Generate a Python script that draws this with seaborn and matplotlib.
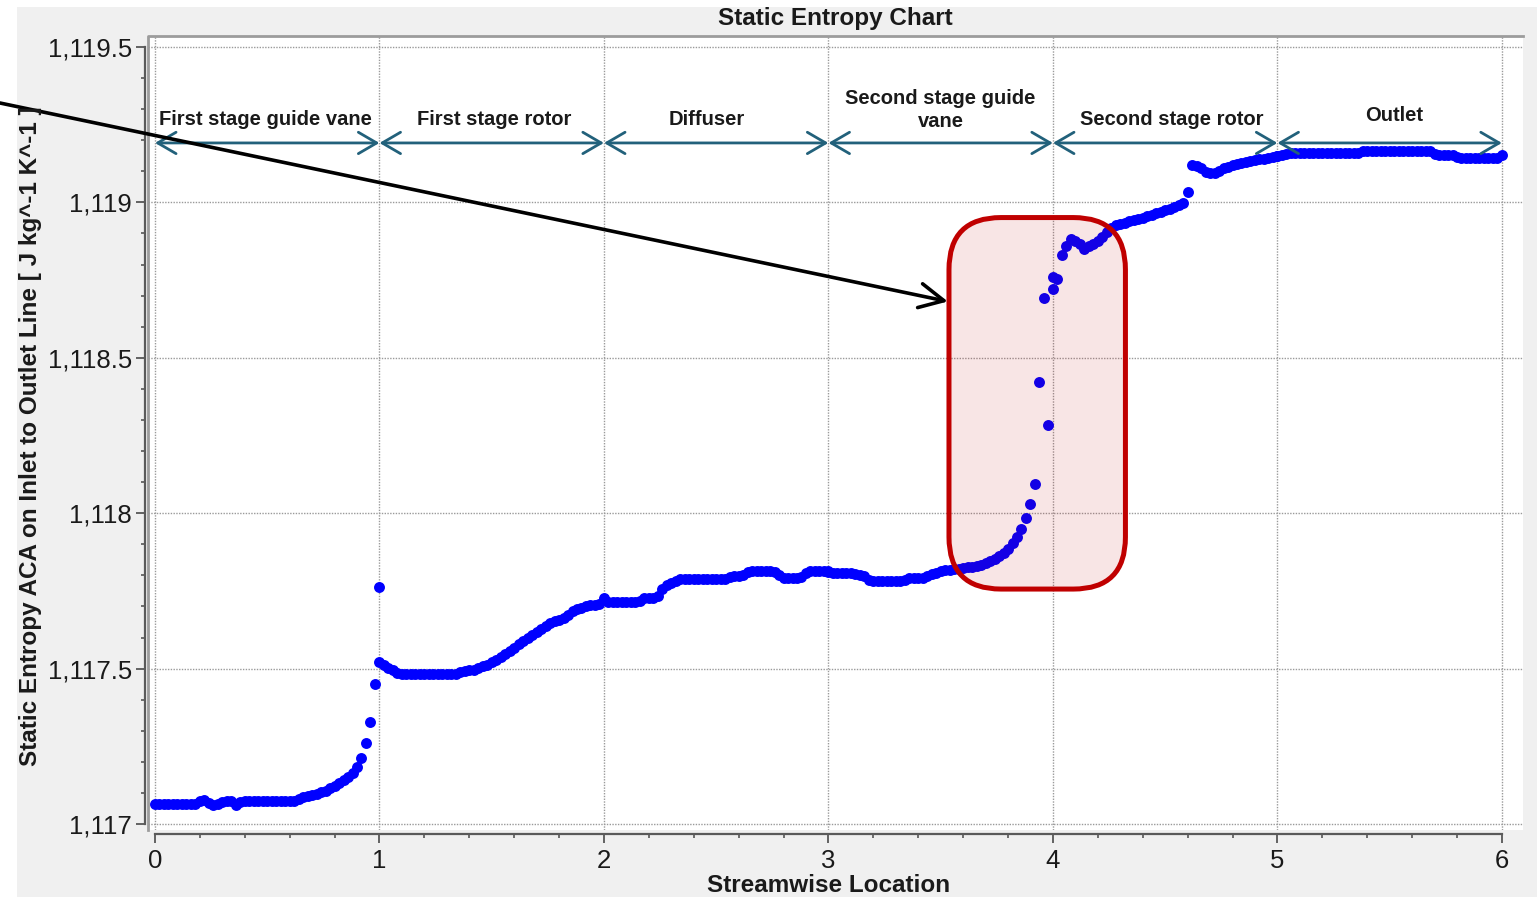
import numpy as np
import pandas as pd
import matplotlib
matplotlib.use("Agg")
import matplotlib.pyplot as plt
import matplotlib.transforms as mtransforms
from matplotlib.patches import Rectangle, FancyBboxPatch
from matplotlib.lines import Line2D
from matplotlib.ticker import MultipleLocator, FuncFormatter
import seaborn as sns

# ---------------- data ----------------
segment_starts = [0, 1, 2, 3, 4, 5]
station_offsets = np.round(np.linspace(0.0, 1.0, 51), 2)   # 51 stations per segment

seg1_entropy = [1117.066, 1117.066, 1117.066, 1117.066, 1117.066, 1117.066, 1117.066, 1117.066,
                1117.066, 1117.066, 1117.074, 1117.077, 1117.068, 1117.062, 1117.064, 1117.070,
                1117.075, 1117.075, 1117.062, 1117.072, 1117.074, 1117.074, 1117.074, 1117.074,
                1117.074, 1117.074, 1117.074, 1117.074, 1117.074, 1117.074, 1117.074, 1117.074,
                1117.080, 1117.088, 1117.090, 1117.094, 1117.096, 1117.102, 1117.108, 1117.115,
                1117.124, 1117.132, 1117.142, 1117.152, 1117.165, 1117.184, 1117.211, 1117.262,
                1117.330, 1117.450, 1117.762]
seg2_entropy = [1117.522, 1117.512, 1117.502, 1117.496, 1117.486, 1117.483, 1117.483, 1117.483,
                1117.483, 1117.483, 1117.483, 1117.483, 1117.483, 1117.483, 1117.483, 1117.483,
                1117.483, 1117.483, 1117.488, 1117.494, 1117.496, 1117.497, 1117.502, 1117.507,
                1117.512, 1117.520, 1117.527, 1117.537, 1117.547, 1117.557, 1117.567, 1117.578,
                1117.588, 1117.598, 1117.608, 1117.619, 1117.628, 1117.637, 1117.646, 1117.653,
                1117.658, 1117.664, 1117.674, 1117.684, 1117.691, 1117.695, 1117.700, 1117.705,
                1117.706, 1117.708, 1117.726]
seg3_entropy = [1117.721, 1117.713, 1117.713, 1117.713, 1117.713, 1117.713, 1117.713, 1117.713,
                1117.716, 1117.726, 1117.728, 1117.728, 1117.735, 1117.756, 1117.768, 1117.776,
                1117.783, 1117.787, 1117.787, 1117.787, 1117.787, 1117.787, 1117.787, 1117.787,
                1117.787, 1117.787, 1117.787, 1117.787, 1117.794, 1117.798, 1117.798, 1117.802,
                1117.810, 1117.815, 1117.815, 1117.815, 1117.815, 1117.815, 1117.812, 1117.800,
                1117.793, 1117.793, 1117.793, 1117.793, 1117.796, 1117.808, 1117.815, 1117.815,
                1117.815, 1117.815, 1117.815]
seg4_entropy = [1117.810, 1117.807, 1117.807, 1117.807, 1117.807, 1117.807, 1117.806, 1117.800,
                1117.797, 1117.786, 1117.782, 1117.782, 1117.782, 1117.782, 1117.782, 1117.782,
                1117.782, 1117.786, 1117.793, 1117.793, 1117.793, 1117.793, 1117.798, 1117.806,
                1117.808, 1117.814, 1117.817, 1117.818, 1117.820, 1117.822, 1117.824, 1117.826,
                1117.828, 1117.831, 1117.834, 1117.840, 1117.846, 1117.854, 1117.862, 1117.871,
                1117.885, 1117.903, 1117.925, 1117.950, 1117.983, 1118.030, 1118.094, 1118.421,
                1118.693, 1118.284, 1118.720]
seg5_entropy = [1118.761, 1118.753, 1118.830, 1118.861, 1118.881, 1118.876, 1118.865, 1118.851,
                1118.858, 1118.867, 1118.876, 1118.890, 1118.906, 1118.918, 1118.926, 1118.930,
                1118.935, 1118.939, 1118.943, 1118.947, 1118.951, 1118.955, 1118.960, 1118.965,
                1118.970, 1118.975, 1118.980, 1118.985, 1118.990, 1118.997, 1119.032, 1119.120,
                1119.117, 1119.110, 1119.096, 1119.094, 1119.095, 1119.102, 1119.110, 1119.115,
                1119.120, 1119.124, 1119.127, 1119.131, 1119.134, 1119.136, 1119.138, 1119.139,
                1119.141, 1119.145, 1119.150]
seg6_entropy = [1119.150, 1119.152, 1119.155, 1119.158, 1119.158, 1119.158, 1119.158, 1119.158,
                1119.158, 1119.158, 1119.158, 1119.158, 1119.158, 1119.158, 1119.158, 1119.158,
                1119.158, 1119.158, 1119.158, 1119.164, 1119.166, 1119.166, 1119.166, 1119.166,
                1119.166, 1119.166, 1119.166, 1119.166, 1119.166, 1119.166, 1119.166, 1119.166,
                1119.166, 1119.166, 1119.166, 1119.156, 1119.152, 1119.152, 1119.152, 1119.152,
                1119.146, 1119.142, 1119.142, 1119.142, 1119.142, 1119.142, 1119.142, 1119.142,
                1119.142, 1119.142, 1119.152]

segment_names = ["First stage guide vane", "First stage rotor", "Diffuser",
                 "Second stage guide\nvane", "Second stage rotor", "Outlet"]
label_x = [0.49, 1.51, 2.46, 3.50, 4.53, 5.52]
label_y = [1119.268, 1119.268, 1119.268, 1119.296, 1119.268, 1119.278]
arrow_level = 1119.191

x_ticks = [0, 1, 2, 3, 4, 5, 6]
y_ticks = [1117.0, 1117.5, 1118.0, 1118.5, 1119.0, 1119.5]

title = "Static Entropy Chart"
x_title = "Streamwise Location"
y_title = "Static Entropy ACA on Inlet to Outlet Line [ J kg^-1 K^-1 ]"

# highlight box (data units) and annotation arrow tip
box_x = [3.537, 4.323]
box_y = [1117.756, 1118.951]
arrow_tip = (3.532, 1118.681)

all_segments = [seg1_entropy, seg2_entropy, seg3_entropy, seg4_entropy, seg5_entropy, seg6_entropy]
df = pd.DataFrame({
    "location": np.concatenate([s + station_offsets for s in segment_starts]),
    "entropy": np.concatenate(all_segments),
})

# ---------------- figure ----------------
W, H = 1537, 897
plt.rcParams["font.family"] = ["Liberation Sans", "DejaVu Sans"]
fig = plt.figure(figsize=(W / 100, H / 100), dpi=100, facecolor="white")

# gray panel
fig.add_artist(Rectangle((17 / W, 0), 1 - 17 / W, 1 - 7 / H, transform=fig.transFigure,
                         facecolor="#f0f0f0", edgecolor="none", zorder=-5))

ax = fig.add_axes([148 / W, 1 - 830 / H, (1523 - 148) / W, (830 - 36) / H])
ax.set_facecolor("white")

sns.scatterplot(data=df, x="location", y="entropy", color="#0000ff", s=62,
                linewidth=0, ax=ax, zorder=3, legend=False)

ax.set_xlim(-0.031, 6.094)
ax.set_ylim(1116.981, 1119.535)

# grid
ax.set_xticks(x_ticks)
ax.set_yticks(y_ticks)
ax.xaxis.set_minor_locator(MultipleLocator(0.2))
ax.yaxis.set_minor_locator(MultipleLocator(0.1))
ax.grid(True, which="major", color="#9a9a9a", linestyle=(0, (1, 1)), linewidth=1.0, zorder=0)
ax.set_axisbelow(True)

def fmt(v, pos):
    s = f"{v:,.1f}"
    return s[:-2] if s.endswith(".0") else s
ax.yaxis.set_major_formatter(FuncFormatter(fmt))
ax.xaxis.set_major_formatter(FuncFormatter(lambda v, p: f"{v:.0f}"))

for side in ["top", "right"]:
    ax.spines[side].set_visible(False)
ax.spines["left"].set_position(("outward", 2))
ax.spines["left"].set_bounds(1117.0, 1119.5)
ax.spines["bottom"].set_position(("outward", 3))
ax.spines["bottom"].set_bounds(0, 6)
for side in ["left", "bottom"]:
    ax.spines[side].set_color("#5a5a5a")
    ax.spines[side].set_linewidth(1.6)

ax.tick_params(axis="both", which="major", length=6.5, width=1.2, color="#4a4a4a",
               labelsize=18.5, labelcolor="#1a1a1a", pad=4)
ax.tick_params(axis="y", which="major", pad=3)
ax.tick_params(axis="both", which="minor", length=3, width=1.1, color="#4a4a4a")

# frame (top / left edge of plot area)
ax.add_line(Line2D([0, 0, 1], [0, 1, 1], transform=ax.transAxes, color="#9c9c9c",
                   linewidth=2.0, clip_on=False, zorder=1))

ax.set_xlabel("")
ax.set_ylabel("")
fig.text(828.5 / W, 1 - 885 / H, x_title, ha="center", va="center",
         fontsize=17.5, fontweight="bold", color="#1a1a1a")
fig.text(31 / W, 1 - 436 / H, y_title, ha="center", va="center", rotation=90,
         fontsize=17.5, fontweight="bold", color="#1a1a1a")
fig.text(835.5 / W, 1 - 18 / H, title, ha="center", va="center",
         fontsize=17.5, fontweight="bold", color="#1a1a1a")

# segment arrows and labels
teal = "#22617b"
for k, start in enumerate(segment_starts):
    ax.annotate("", xy=(start + 1, arrow_level), xytext=(start, arrow_level),
                arrowprops=dict(arrowstyle="<->,head_length=0.6,head_width=0.35",
                                color=teal, lw=2.0, shrinkA=0, shrinkB=0,
                                mutation_scale=22),
                zorder=4)
    ax.text(label_x[k], label_y[k], segment_names[k], ha="center", va="center",
            fontsize=14.5, fontweight="bold", color="#1a1a1a", linespacing=1.25, zorder=5)

# highlight box
fig.canvas.draw()
(px0, py0) = ax.transData.transform((box_x[0], box_y[0]))
(px1, py1) = ax.transData.transform((box_x[1], box_y[1]))
box = FancyBboxPatch((px0, py0), px1 - px0, py1 - py0,
                     boxstyle="round,pad=0,rounding_size=52",
                     transform=mtransforms.IdentityTransform(),
                     facecolor=(0.75, 0.0, 0.0, 0.10), edgecolor="#c00000",
                     linewidth=3.6, zorder=6, clip_on=False)
ax.add_patch(box)

# black annotation arrow
ax.annotate("", xy=arrow_tip, xycoords="data", xytext=(0, H - 103), textcoords="figure pixels",
            arrowprops=dict(arrowstyle="->,head_length=0.7,head_width=0.35", color="black",
                            lw=2.6, shrinkA=0, shrinkB=0, mutation_scale=25),
            annotation_clip=False, zorder=7)

fig.savefig("out.png", dpi=100, facecolor="white")
